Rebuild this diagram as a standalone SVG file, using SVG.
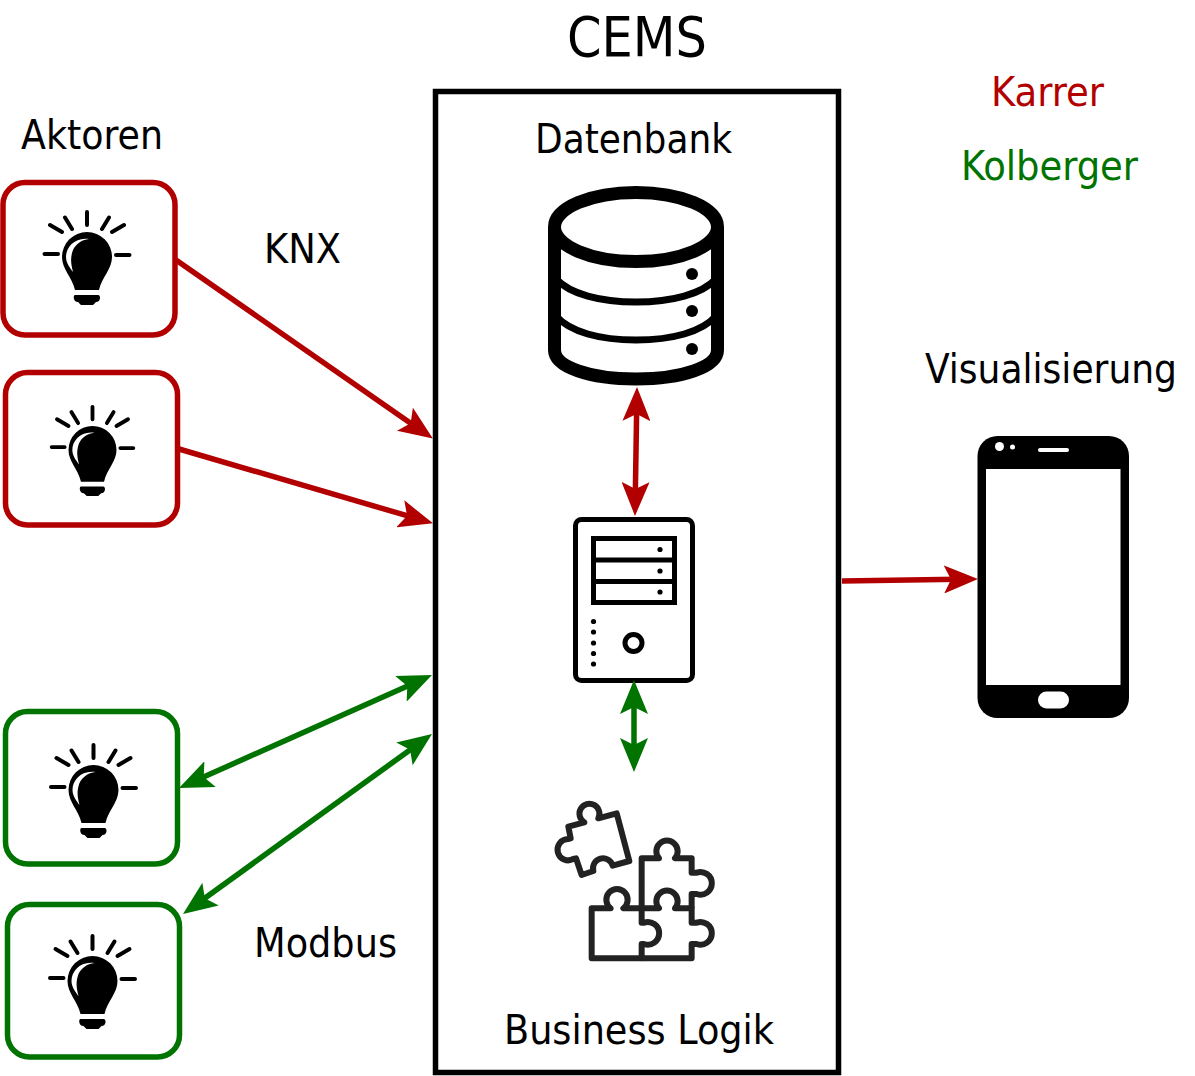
<svg xmlns="http://www.w3.org/2000/svg" width="1195" height="1076" viewBox="0 0 1195 1076">
<style>
text{font-family:"DejaVu Sans Condensed","DejaVu Sans","Liberation Sans",sans-serif;font-size:40px;fill:#000}
.box{fill:#fff;stroke-width:5.500}
.r{stroke:#B20000}.g{stroke:#007300}
.ln{fill:none;stroke-width:5.500}
.rl{marker-end:url(#hr)}
.rb{marker-start:url(#hr);marker-end:url(#hr)}
.gb{marker-start:url(#hg);marker-end:url(#hg)}
.ray{stroke:#000;stroke-width:4;stroke-linecap:round;fill:none}
.db{fill:none;stroke:#000}
</style>
<defs>
<marker id="hr" viewBox="0 0 34 28" markerWidth="34" markerHeight="28" refX="14" refY="14" orient="auto-start-reverse" markerUnits="userSpaceOnUse"><path d="M0 0L34 14L0 28L7 14Z" fill="#B20000"/></marker>
<marker id="hg" viewBox="0 0 34 28" markerWidth="34" markerHeight="28" refX="14" refY="14" orient="auto-start-reverse" markerUnits="userSpaceOnUse"><path d="M0 0L34 14L0 28L7 14Z" fill="#007300"/></marker>
<symbol id="bulb" overflow="visible">
<path class="ray" d="M0-45V-32M-22-39.500L-15-28M22-39.500L15-28M-37-32L-25-25M37-32L25-25M-42.500-3H-29M29-2H42.500"/>
<path d="M-25 0A25 25 0 0 1 25 0C25 12 15 20 12 33H-12C-15 20-25 12-25 0Z" fill="#000"/>
<path d="M2-18C-12-20-21-10-21 0-21 6-17 11-14 15-16 7-17 1-14-7-11-13-6-17 2-18Z" fill="#fff"/>
<path d="M-12 38H11C14 38 14 45 9 45L6 48H-6L-9 45C-14 45-14 38-12 38Z" fill="#000"/>
</symbol>
</defs>

<g id="cems">
<rect x="435.500" y="91.500" width="403" height="981" fill="#fff" stroke="#000" stroke-width="5.500"/>
<text x="567" y="56" textLength="140" lengthAdjust="spacingAndGlyphs" style="font-size:56px">CEMS</text>
</g>

<g id="database">
<text x="535" y="153" textLength="197" lengthAdjust="spacingAndGlyphs">Datenbank</text>
<g class="db">
<ellipse cx="636" cy="227" rx="81.500" ry="34.500" stroke-width="13"/>
<path d="M554.500 227V350C554.500 367 590 379 636 379S717.500 367 717.500 350V227" stroke-width="13"/>
<path d="M556 279C570 294 600 302 636 302S702 294 716 279M556 316C570 332 600 340 636 340S702 332 716 316" stroke-width="7"/>
</g>
<circle cx="692" cy="274" r="6"/><circle cx="692" cy="311" r="6"/><circle cx="692" cy="349" r="6"/>
</g>

<g id="server">
<rect x="575.500" y="519.500" width="117" height="161" rx="6" fill="#fff" stroke="#000" stroke-width="5"/>
<path d="M593.500 538.500H674.500V602.500H593.500ZM593.500 560H674.500M593.500 581.500H674.500" fill="none" stroke="#000" stroke-width="5"/>
<circle cx="660" cy="549.500" r="2.600"/><circle cx="660" cy="571" r="2.600"/><circle cx="660" cy="592" r="2.600"/>
<circle cx="593.500" cy="621.500" r="2.600"/><circle cx="593.500" cy="632" r="2.600"/><circle cx="593.500" cy="643" r="2.600"/><circle cx="593.500" cy="653.500" r="2.600"/><circle cx="593.500" cy="664" r="2.600"/>
<circle cx="633.500" cy="643" r="8.500" fill="none" stroke="#000" stroke-width="5"/>
</g>

<g id="business-logik">
<g transform="translate(540 790) scale(.3333)" fill="none" stroke="#222" stroke-width="18" stroke-linejoin="round">
<path d="M85 110L133 97A30 30 0 1 1 175 85L230 70L268 213L218 227A30 30 0 1 0 160 243L125 255L108 205L100 207A32 32 0 1 1 84 147L92 145Z"/>
<path d="M155 355H212A32 32 0 1 1 250 355H305V398H312A34 34 0 1 1 312 462H305V505H155Z"/>
<path d="M305 505H455V462H470A34 34 0 1 0 470 398H455V355H405A32 32 0 1 0 357 355H305"/>
<path d="M305 355V205H357A32 32 0 1 1 405 205H455V248H470A34 34 0 1 1 470 312H455V355"/>
</g>
<text x="504" y="1044" textLength="270" lengthAdjust="spacingAndGlyphs">Business Logik</text>
</g>

<g id="aktoren-label"><text x="21" y="149" textLength="142" lengthAdjust="spacingAndGlyphs">Aktoren</text></g>
<g id="knx-label"><text x="264" y="263" textLength="77" lengthAdjust="spacingAndGlyphs">KNX</text></g>
<g id="modbus-label"><text x="254" y="957" textLength="143" lengthAdjust="spacingAndGlyphs">Modbus</text></g>
<g id="karrer-label"><text x="991" y="106" textLength="113" lengthAdjust="spacingAndGlyphs" style="fill:#B20000">Karrer</text></g>
<g id="kolberger-label"><text x="961" y="180" textLength="177" lengthAdjust="spacingAndGlyphs" style="fill:#007300">Kolberger</text></g>

<g id="actor-1"><rect class="box r" x="3" y="182.500" width="172" height="152.500" rx="22"/><use href="#bulb" transform="translate(87 257)"/></g>
<g id="actor-2"><rect class="box r" x="5.500" y="372.500" width="172" height="152.500" rx="22"/><use href="#bulb" transform="translate(92.500 450) scale(.96)"/></g>
<g id="actor-3"><rect class="box g" x="5.500" y="711.500" width="172" height="152.500" rx="22"/><use href="#bulb" transform="translate(93.500 790)"/></g>
<g id="actor-4"><rect class="box g" x="7.500" y="904.500" width="172" height="152.500" rx="22"/><use href="#bulb" transform="translate(92.500 981)"/></g>

<g id="visualisierung">
<text x="925" y="383" textLength="252" lengthAdjust="spacingAndGlyphs">Visualisierung</text>
<rect x="977.500" y="436" width="151.500" height="282" rx="20"/>
<rect x="986" y="469" width="134.500" height="216" fill="#fff"/>
<circle cx="999.500" cy="446.500" r="4.500" fill="#fff"/><circle cx="1012.500" cy="447" r="2.500" fill="#fff"/>
<rect x="1038" y="448" width="31" height="4" rx="2" fill="#fff"/>
<rect x="1038" y="691.500" width="31" height="17" rx="8.500" fill="#fff"/>
</g>

<g id="connectors">
<path class="ln r rl" d="M176 260L416.400 427.200"/>
<path class="ln r rl" d="M179 449L413.800 517.700"/>
<path class="ln g gb" d="M197.300 779.800L413.700 683.200"/>
<path class="ln g gb" d="M199.200 902.300L415.800 745.700"/>
<path class="ln r rb" d="M636.700 407L635.300 496"/>
<path class="ln g gb" d="M634 700V752"/>
<path class="ln r rl" d="M842 581L958 579.300"/>
</g>
</svg>
